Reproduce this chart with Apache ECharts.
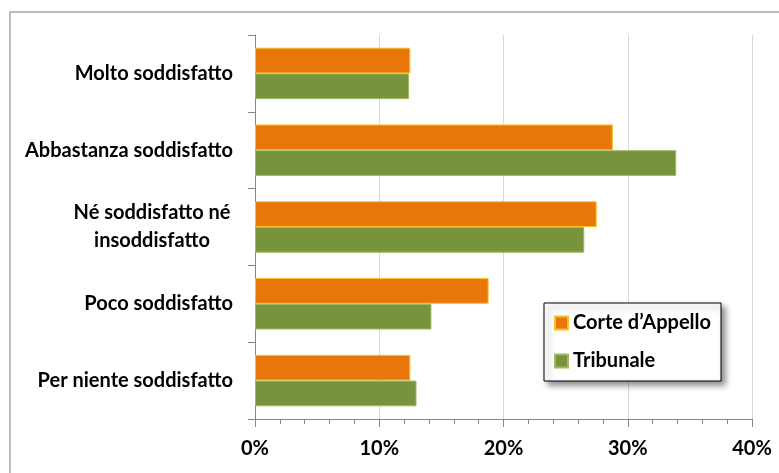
<!DOCTYPE html>
<html>
<head>
<meta charset="utf-8">
<style>
  html, body { margin: 0; padding: 0; background: #ffffff; }
  #chart { width: 779px; height: 473px; }
</style>
<script src="https://cdn.jsdelivr.net/npm/echarts@6/dist/echarts.min.js"></script>
</head>
<body>
<div id="chart"></div>
<script>
// Livello di soddisfazione: Corte d'Appello vs Tribunale (valori in %)
const categories = [
  'Molto soddisfatto',
  'Abbastanza soddisfatto',
  'Né soddisfatto né\ninsoddisfatto',
  'Poco soddisfatto',
  'Per niente soddisfatto'
];
const seriesNames = ['Corte d\u2019Appello', 'Tribunale'];
const corteAppello = [12.5, 28.8, 27.5, 18.8, 12.5];
const tribunale = [12.4, 33.9, 26.5, 14.2, 13.0];
const xTicks = [0, 10, 20, 30, 40];

const FONT = 'Lato, "Open Sans", sans-serif';
const chart = echarts.init(document.getElementById('chart'), null, { renderer: 'canvas' });

chart.setOption({
  backgroundColor: '#ffffff',
  animation: false,
  graphic: [{
    type: 'rect',
    shape: { x: 10, y: 12, width: 820, height: 520 },
    style: { fill: 'none', stroke: '#a8a8a8', lineWidth: 1.5 },
    silent: true,
    z: -1
  }],
  grid: { left: 255, right: 27, top: 35, bottom: 54, containLabel: false },
  legend: {
    data: seriesNames,
    orient: 'vertical',
    left: 544,
    top: 303,
    padding: [10, 10, 10, 10],
    itemGap: 18,
    itemWidth: 13,
    itemHeight: 13,
    icon: 'rect',
    backgroundColor: '#ffffff',
    borderColor: '#000000',
    borderWidth: 1,
    shadowColor: 'rgba(0,0,0,0.45)',
    shadowBlur: 6,
    shadowOffsetX: 4,
    shadowOffsetY: 4,
    textStyle: { fontFamily: FONT, fontWeight: 'bold', fontSize: 20, color: '#000000', lineHeight: 20 }
  },
  xAxis: {
    type: 'value',
    min: xTicks[0],
    max: xTicks[xTicks.length - 1],
    interval: 10,
    axisLine: { show: true, lineStyle: { color: '#868686', width: 1 } },
    axisTick: { show: true, length: 8, lineStyle: { color: '#868686' } },
    minorTick: { show: true, splitNumber: 5, length: 5, lineStyle: { color: '#868686' } },
    splitLine: { show: true, lineStyle: { color: '#d9d9d9', width: 1 } },
    axisLabel: {
      margin: 20,
      fontFamily: FONT, fontWeight: 'bold', fontSize: 20, color: '#000000',
      formatter: '{value}%'
    }
  },
  yAxis: {
    type: 'category',
    data: categories,
    inverse: true,
    axisLine: { show: true, lineStyle: { color: '#868686', width: 1 } },
    axisTick: { show: true, inside: false, length: 7, lineStyle: { color: '#868686' } },
    splitLine: { show: false },
    axisLabel: {
      margin: 22,
      align: 'right',
      fontFamily: FONT, fontWeight: 'bold', fontSize: 20, color: '#000000',
      lineHeight: 28,
      formatter: function (v) {
        if (v.indexOf('\n') >= 0) {
          return v.split('\n').map(function (s) { return '{c|' + s + '}'; }).join('\n');
        }
        return v;
      },
      rich: {
        c: { width: 162, align: 'center', fontFamily: FONT, fontWeight: 'bold', fontSize: 20, color: '#000000', lineHeight: 28 }
      }
    }
  },
  series: [
    {
      name: seriesNames[0],
      type: 'bar',
      data: corteAppello,
      barGap: '0%',
      barCategoryGap: '33%',
      itemStyle: { color: '#e8760a', borderColor: '#f7c12a', borderWidth: 1 }
    },
    {
      name: seriesNames[1],
      type: 'bar',
      data: tribunale,
      barGap: '0%',
      barCategoryGap: '33%',
      itemStyle: { color: '#77933c', borderColor: '#a2b867', borderWidth: 1 }
    }
  ]
});
</script>
</body>
</html>
